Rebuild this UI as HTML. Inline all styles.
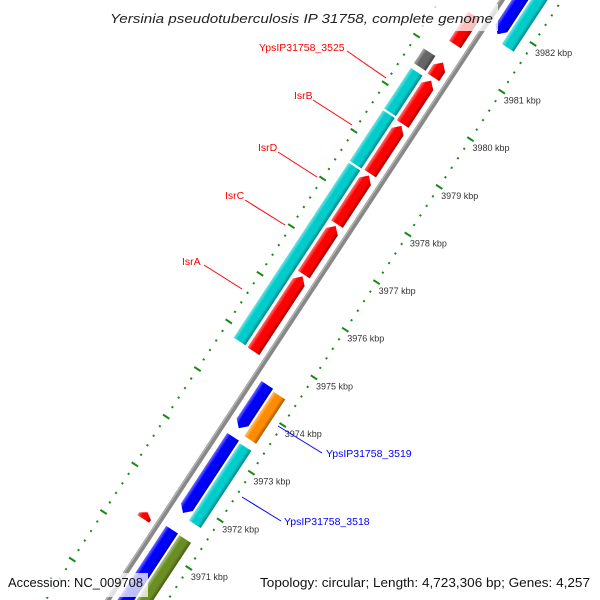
<!DOCTYPE html>
<html><head><meta charset="utf-8"><style>
html,body{margin:0;padding:0;background:#fff;width:600px;height:600px;overflow:hidden;}
svg{display:block;overflow:hidden;}
text{font-family:"Liberation Sans","DejaVu Sans",sans-serif;}
</style></head><body>
<svg id="chart" width="600" height="600" viewBox="0 0 600 600" xmlns="http://www.w3.org/2000/svg">
<defs>
<linearGradient id="shade" x1="0" y1="0" x2="0" y2="1">
<stop offset="0" stop-color="#fff" stop-opacity="0.45"/>
<stop offset="0.28" stop-color="#fff" stop-opacity="0"/>
<stop offset="0.7" stop-color="#000" stop-opacity="0"/>
<stop offset="1" stop-color="#000" stop-opacity="0.35"/>
</linearGradient>
<clipPath id="frame"><rect x="0" y="0" width="600" height="600"/></clipPath>
</defs>
<rect x="0" y="0" width="600" height="600" fill="#fff"/>
<g clip-path="url(#frame)">
<g id="map" transform="translate(314,377.4) rotate(-56.7)">
<g id="ticks"></g>
<line x1="-500" y1="-50" x2="600" y2="-50" stroke="#888" stroke-width="5"/>
<line x1="-500" y1="-51.5" x2="600" y2="-51.5" stroke="#b5b5b5" stroke-width="1.2"/>
<g id="genes"></g>
</g>
</g>
<g id="ticklabels"></g>

<g font-size="10.5">
<line x1="347" y1="51" x2="386" y2="78" stroke="#f00" stroke-width="1"/>
<text x="259" y="51" fill="#f00">YpsIP31758_3525</text>
<line x1="313" y1="100" x2="352" y2="125" stroke="#f00" stroke-width="1"/>
<text x="294" y="99" fill="#f00">IsrB</text>
<line x1="278" y1="152" x2="317" y2="177" stroke="#f00" stroke-width="1"/>
<text x="258" y="151" fill="#f00">IsrD</text>
<line x1="245" y1="200" x2="285" y2="225" stroke="#f00" stroke-width="1"/>
<text x="225" y="199" fill="#f00">IsrC</text>
<line x1="204" y1="265" x2="242" y2="289" stroke="#f00" stroke-width="1"/>
<text x="182" y="265" fill="#f00">IsrA</text>
<line x1="278" y1="426" x2="322" y2="453" stroke="#00f" stroke-width="1"/>
<text x="326" y="457" fill="#00f">YpsIP31758_3519</text>
<line x1="242" y1="497" x2="281" y2="521" stroke="#00f" stroke-width="1"/>
<text x="284" y="525" fill="#00f">YpsIP31758_3518</text>
</g>

<rect x="105" y="4" width="393" height="27" fill="#fff" fill-opacity="0.75"/>
<text x="110" y="23" font-family="DejaVu Sans, sans-serif" font-style="italic" font-size="13" fill="#222" textLength="383" lengthAdjust="spacingAndGlyphs">Yersinia pseudotuberculosis IP 31758, complete genome</text>
<rect x="3" y="573" width="145" height="24" fill="#fff" fill-opacity="0.75"/>
<text x="8" y="587" font-size="13" fill="#111" textLength="135" lengthAdjust="spacingAndGlyphs">Accession: NC_009708</text>
<rect x="255" y="573" width="342" height="24" fill="#fff" fill-opacity="0.75"/>
<text x="260" y="587" font-size="13" fill="#111" textLength="330" lengthAdjust="spacingAndGlyphs">Topology: circular; Length: 4,723,306 bp; Genes: 4,257</text>
</svg>
<script>
// data
const tickStartKbp = 3968;
const tickEndKbp = 3985;
const tickLabelKbp = [3971,3972,3973,3974,3975,3976,3977,3978,3979,3980,3981,3982];
const geneStart = [3974.80,3976.41,3977.47,3978.53,3979.57,3980.55,3981.24,3971.28,
                   3974.81,3978.52,3979.62,3980.57,
                   3973.53,3971.75,3969.0,3981.80,
                   3973.47,3971.70,3969.0,3981.70];
const geneEnd   = [3976.37,3977.43,3978.49,3979.53,3980.48,3980.86,3981.85,3971.42,
                   3978.48,3979.58,3980.47,3980.88,
                   3974.44,3973.35,3971.40,3984.0,
                   3974.40,3973.32,3971.39,3984.0];
const geneRing  = ["i1","i1","i1","i1","i1","i1","i1","i1",
                   "i2","i2","i2","i2",
                   "o1","o1","o1","o1",
                   "o2","o2","o2","o2"];
const geneStrand= [1,1,1,1,1,1,0,1, 0,0,0,0, -1,-1,0,-1, 0,0,0,0];
const geneColor = ["#ff0000","#ff0000","#ff0000","#ff0000","#ff0000","#ff0000","#ff0000","#ff0000",
                   "#00cccc","#00cccc","#00cccc","#666666",
                   "#0000ff","#0000ff","#0000ff","#0000ff",
                   "#ff8c00","#00cccc","#6b8e23","#00cccc"];
</script>
<script>
const NS="http://www.w3.org/2000/svg";
const ORIGIN_KBP=3975, PX_PER_KBP=57.0;
const OX=314, OY=377.4, UX=0.549, UY=-0.836;
const ringY={o2:-19,o1:-35,i1:-65,i2:-82};
const OUTER_TICK_Y=0, INNER_TICK_Y=-102;
function xScale(k){return (k-ORIGIN_KBP)*PX_PER_KBP;}
function screen(k){const a=xScale(k);return [OX+UX*a, OY+UY*a];}

const tg=document.getElementById('ticks');
for(let i=Math.round(tickStartKbp*5);i<=Math.round(tickEndKbp*5);i++){
  const k=i/5, major=(i%5===0);
  [OUTER_TICK_Y,INNER_TICK_Y].forEach(function(ty){
    const l=document.createElementNS(NS,'line');
    const x=xScale(k), h=major?3.8:1;
    l.setAttribute('x1',x);l.setAttribute('x2',x);
    l.setAttribute('y1',ty-h);l.setAttribute('y2',ty+h);
    l.setAttribute('stroke','#158a15');l.setAttribute('stroke-width','2');
    
    
    tg.appendChild(l);
  });
}
const tl=document.getElementById('ticklabels');
tickLabelKbp.forEach(function(k){
  const p=screen(k);
  const t=document.createElementNS(NS,'text');
  t.setAttribute('x',p[0]+2);t.setAttribute('y',p[1]+12);
  t.setAttribute('font-size','9');t.setAttribute('fill','#333');
  t.textContent=k+' kbp';
  
  
  tl.appendChild(t);
});
const gg=document.getElementById('genes');
for(let i=0;i<geneStart.length;i++){
  const x0=xScale(geneStart[i]), x1=xScale(geneEnd[i]), yc=ringY[geneRing[i]], h=14;
  const hl=Math.min(7,(x1-x0)*0.6);
  let pts;
  if(geneStrand[i]===1) pts=[[x0,yc-h/2],[x1-hl,yc-h/2],[x1,yc],[x1-hl,yc+h/2],[x0,yc+h/2]];
  else if(geneStrand[i]===-1) pts=[[x0+hl,yc-h/2],[x1,yc-h/2],[x1,yc+h/2],[x0+hl,yc+h/2],[x0,yc]];
  else pts=[[x0,yc-h/2],[x1,yc-h/2],[x1,yc+h/2],[x0,yc+h/2]];
  const s=pts.map(p=>p[0].toFixed(1)+','+p[1].toFixed(1)).join(' ');
  const g=document.createElementNS(NS,'g');
  
  
  const a=document.createElementNS(NS,'polygon');
  a.setAttribute('points',s);a.setAttribute('fill',geneColor[i]);
  
  
  const b=document.createElementNS(NS,'polygon');
  b.setAttribute('points',s);b.setAttribute('fill','url(#shade)');
  
  
  g.appendChild(a);g.appendChild(b);gg.appendChild(g);
}
</script>
</body></html>
